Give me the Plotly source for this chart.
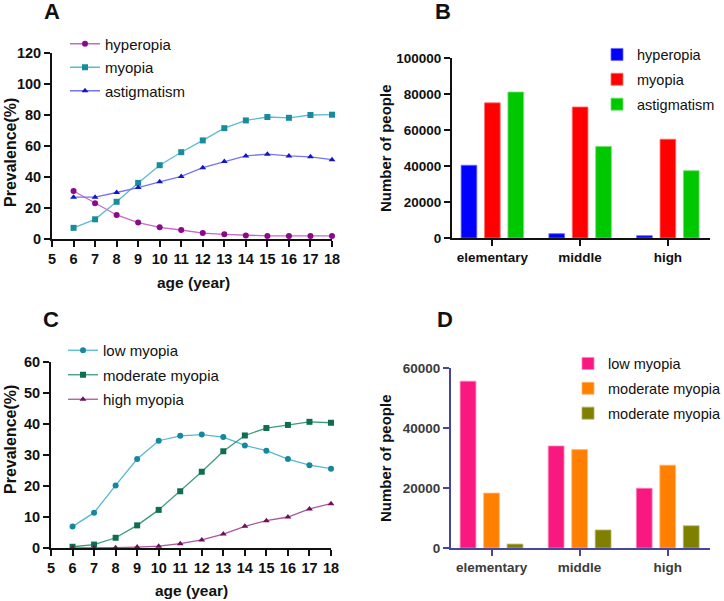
import plotly.graph_objects as go

W, H = 724, 601

# ---------------- data ----------------
ages = [6, 7, 8, 9, 10, 11, 12, 13, 14, 15, 16, 17, 18]
hyperopia_pct = [31.0, 23.0, 15.5, 10.6, 7.5, 5.8, 3.8, 3.0, 2.3, 2.0, 2.0, 2.0, 2.0]
myopia_pct = [7.2, 12.7, 24.0, 36.2, 47.6, 56.0, 63.6, 71.5, 76.5, 78.7, 78.2, 80.0, 80.2]
astig_pct = [27.0, 27.0, 30.0, 33.2, 36.9, 40.4, 46.0, 50.0, 53.6, 54.7, 53.6, 53.0, 51.2]

low_pct = [6.9, 11.4, 20.2, 28.7, 34.6, 36.2, 36.6, 35.8, 33.1, 31.4, 28.7, 26.7, 25.6]
moderate_pct = [0.4, 1.1, 3.3, 7.3, 12.3, 18.3, 24.6, 31.2, 36.3, 38.7, 39.7, 40.7, 40.4]
high_pct = [0.0, 0.0, 0.1, 0.3, 0.6, 1.4, 2.6, 4.5, 7.0, 8.8, 10.0, 12.6, 14.3]

schools = ["elementary", "middle", "high"]
hyperopia_n = [40400, 2400, 1300]
myopia_n = [75100, 72800, 54900]
astig_n = [81100, 50900, 37400]

low_n = [55600, 34000, 19900]
moderate_n = [18300, 32800, 27600]
third_n = [1300, 6000, 7400]

a_yticks = [0, 20, 40, 60, 80, 100, 120]
c_yticks = [0, 10, 20, 30, 40, 50, 60]
b_yticks = [0, 20000, 40000, 60000, 80000, 100000]
d_yticks = [0, 20000, 40000, 60000]
x_ticks = [5, 6, 7, 8, 9, 10, 11, 12, 13, 14, 15, 16, 17, 18]

# ---------------- helpers ----------------
def px_x(p):
    return p / W

def px_y(p):
    return 1 - p / H

FONT = "Liberation Sans, Arial, sans-serif"

fig = go.Figure()

def line_trace(y, name, lcolor, mcolor, symbol, xa, ya, legend):
    return go.Scatter(
        x=ages, y=y, name=name, mode="lines+markers",
        line=dict(color=lcolor, width=1.3),
        marker=dict(color=mcolor, symbol=symbol, size=6),
        xaxis=xa, yaxis=ya, legend=legend, legendgroup=name + legend,
        cliponaxis=False,
    )

# Panel A
fig.add_trace(line_trace(hyperopia_pct, "hyperopia", "#c868c8", "#8a0a8a", "circle", "x", "y", "legend"))
fig.add_trace(line_trace(myopia_pct, "myopia", "#5cbccc", "#178c9c", "square", "x", "y", "legend"))
fig.add_trace(line_trace(astig_pct, "astigmatism", "#7474f4", "#1414c8", "triangle-up", "x", "y", "legend"))

# Panel C
fig.add_trace(line_trace(low_pct, "low myopia", "#56b8d0", "#16889e", "circle", "x3", "y3", "legend3"))
fig.add_trace(line_trace(moderate_pct, "moderate myopia", "#3c9c78", "#0f6e4e", "square", "x3", "y3", "legend3"))
fig.add_trace(line_trace(high_pct, "high myopia", "#a8589c", "#6e0e5c", "triangle-up", "x3", "y3", "legend3"))

def bar_trace(y, name, color, edge, xa, ya, legend):
    return go.Bar(
        x=schools, y=y, name=name,
        marker=dict(color=color, line=dict(color=edge, width=0.8)),
        xaxis=xa, yaxis=ya, legend=legend, legendgroup=name + legend + color,
    )

# Panel B
fig.add_trace(bar_trace(hyperopia_n, "hyperopia", "#0000ff", "#6a6aff", "x2", "y2", "legend2"))
fig.add_trace(bar_trace(myopia_n, "myopia", "#ff0000", "#ff7070", "x2", "y2", "legend2"))
fig.add_trace(bar_trace(astig_n, "astigmatism", "#00c800", "#70e070", "x2", "y2", "legend2"))

# Panel D
fig.add_trace(bar_trace(low_n, "low myopia", "#f8187f", "#ff80b8", "x4", "y4", "legend4"))
fig.add_trace(bar_trace(moderate_n, "moderate myopia", "#ff8000", "#ffb870", "x4", "y4", "legend4"))
fig.add_trace(bar_trace(third_n, "moderate myopia", "#808000", "#b0b060", "x4", "y4", "legend4"))

tickfont_line = dict(family=FONT, size=14.5, color="#111111", weight="bold")
tickfont_bar = dict(family=FONT, size=13.5, color="#111111", weight="bold")
tickfont_d = dict(family=FONT, size=13.5, color="#3c3c3c", weight="bold")

common_axis = dict(showgrid=False, zeroline=False, showline=True, linewidth=2,
                   ticks="outside", ticklen=6, tickwidth=2, fixedrange=True,
                   automargin=False, tickformat="d")

NAVY = "#46469e"

layout = dict(
    template="none",
    width=W, height=H,
    margin=dict(l=0, r=0, t=0, b=0, autoexpand=False),
    paper_bgcolor="white", plot_bgcolor="white",
    barmode="group", bargap=0.2, bargroupgap=0.33,
    showlegend=True,
    xaxis=dict(domain=[px_x(52), px_x(332)], range=[5, 18], tickvals=x_ticks,
               linecolor="#111111", tickcolor="#111111", tickfont=tickfont_line,
               anchor="y", **common_axis),
    yaxis=dict(domain=[px_y(239), px_y(53)], range=[0, 120], tickvals=a_yticks,
               linecolor="#111111", tickcolor="#111111", tickfont=tickfont_line,
               anchor="x", **common_axis),
    xaxis2=dict(domain=[px_x(452), px_x(710)], range=[-0.46, 2.48],
                linecolor="#111111", tickcolor="#111111", tickfont=tickfont_bar,
                anchor="y2", **common_axis),
    yaxis2=dict(domain=[px_y(238), px_y(58)], range=[0, 100000], tickvals=b_yticks,
                linecolor="#111111", tickcolor="#111111", tickfont=tickfont_bar,
                anchor="x2", **common_axis),
    xaxis3=dict(domain=[px_x(51), px_x(331)], range=[5, 18], tickvals=x_ticks,
                linecolor="#111111", tickcolor="#111111", tickfont=tickfont_line,
                anchor="y3", **common_axis),
    yaxis3=dict(domain=[px_y(548), px_y(362)], range=[0, 60], tickvals=c_yticks,
                linecolor="#111111", tickcolor="#111111", tickfont=tickfont_line,
                anchor="x3", **common_axis),
    xaxis4=dict(domain=[px_x(451), px_x(710)], range=[-0.46, 2.48],
                linecolor=NAVY, tickcolor=NAVY, tickfont=tickfont_d,
                anchor="y4", **common_axis),
    yaxis4=dict(domain=[px_y(548), px_y(368)], range=[0, 60000], tickvals=d_yticks,
                linecolor=NAVY, tickcolor=NAVY, tickfont=tickfont_d,
                anchor="x4", **common_axis),
)

def legend_cfg(left, top, size, gap):
    return dict(x=px_x(left), y=px_y(top), xanchor="left", yanchor="top",
                bgcolor="rgba(0,0,0,0)", borderwidth=0,
                font=dict(family=FONT, size=size, color="#111111"),
                tracegroupgap=gap, itemclick=False, itemdoubleclick=False)

layout["legend"] = legend_cfg(65, 27.5, 15, 1)
layout["legend2"] = legend_cfg(597, 38.5, 14.5, 3)
layout["legend3"] = legend_cfg(63, 334, 15, 2)
layout["legend4"] = legend_cfg(568, 347.5, 14.5, 3)

fig.update_layout(**layout)

def ann(text, x, y, size, angle=0, color="#111111"):
    fig.add_annotation(text=text, x=px_x(x), y=px_y(y), xref="paper", yref="paper",
                       xanchor="center", yanchor="middle", showarrow=False,
                       textangle=angle,
                       font=dict(family=FONT, size=size, color=color, weight="bold"))

# panel letters
ann("A", 52, 12, 22)
ann("B", 443.5, 12, 22)
ann("C", 50.5, 319, 22)
ann("D", 444.5, 319, 22)

# axis titles
ann("Prevalence(%)", 10, 153, 16, -90)
ann("age (year)", 193, 282, 15.5)
ann("Number of people", 385, 148, 15, -90)
ann("Prevalence(%)", 10, 440, 16, -90)
ann("age (year)", 191, 590, 15.5)
ann("Number of people", 385, 458, 15, -90)

fig.write_html("out.html",
               config={"displayModeBar": False},
               post_script="document.body.style.margin='0';document.body.style.overflow='hidden';")
